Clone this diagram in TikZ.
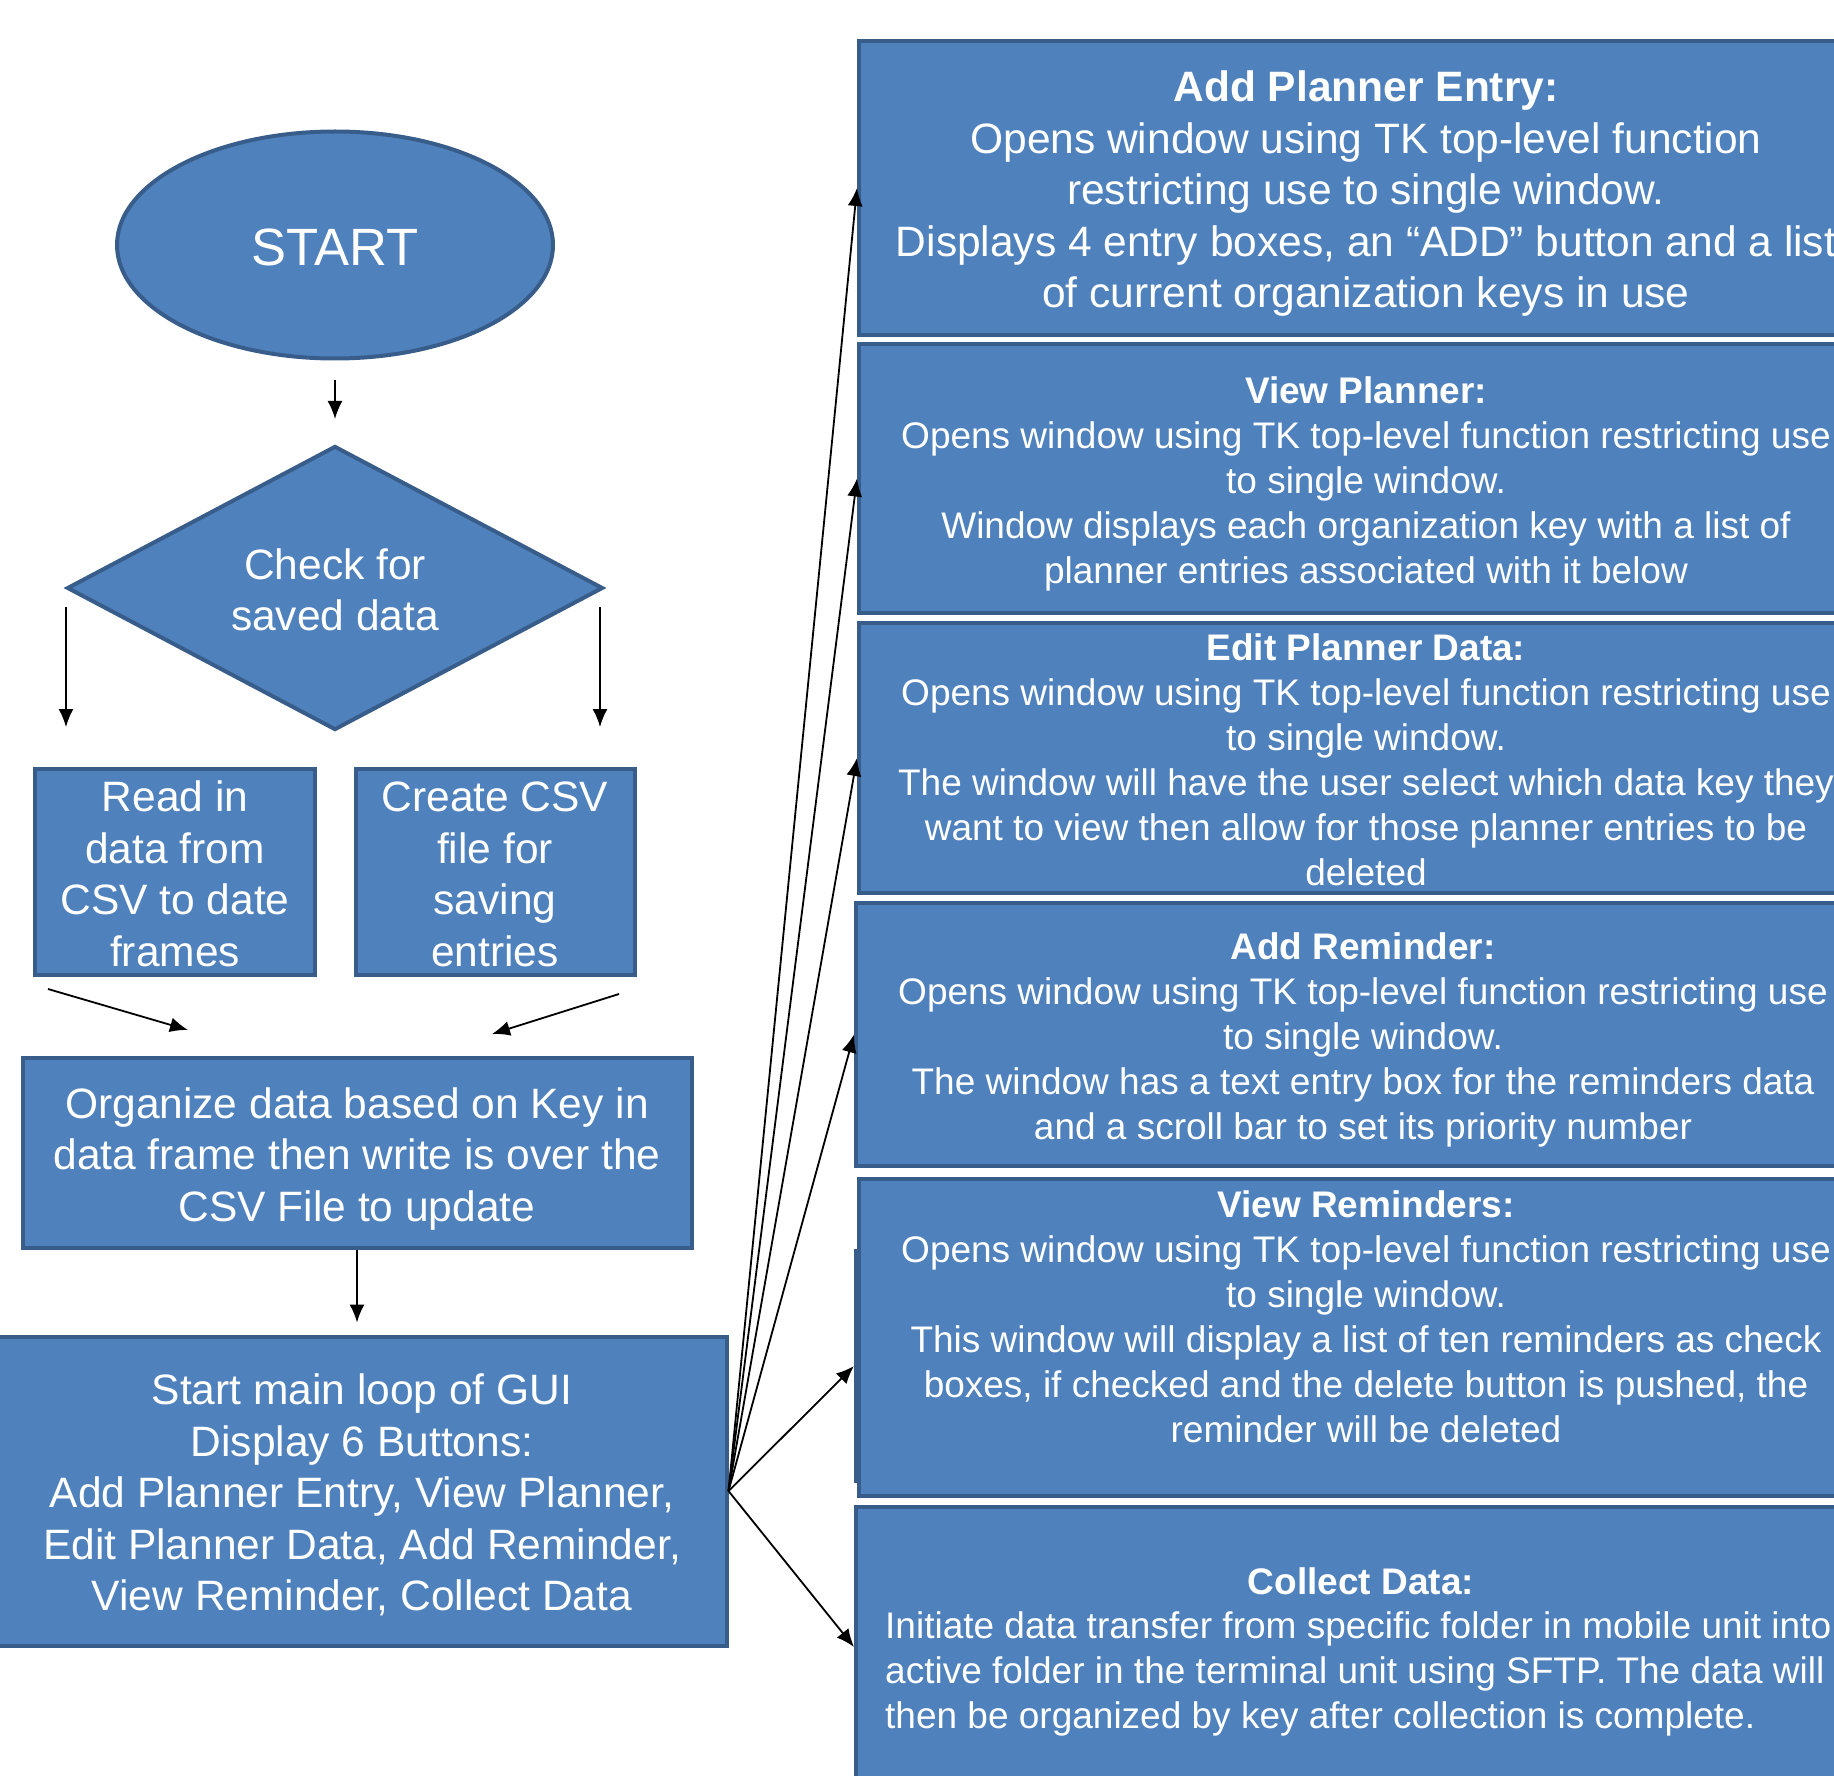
\documentclass[tikz,border=0pt]{standalone}
\usepackage{fontspec}
\setmainfont{Liberation Sans}
\usetikzlibrary{shapes.geometric,arrows.meta}
\definecolor{boxblue}{HTML}{4F81BD}
\definecolor{boxline}{HTML}{385D8A}
% struts so the lines sit in the box as in the slide
\newcommand{\upstrut}{\rule{0pt}{1em}}
\newcommand{\dnstrut}{\rule[-0.21em]{0pt}{0pt}}
\tikzset{
  blk/.style={draw=boxline, line width=4pt, fill=boxblue, text=white, align=center, inner sep=0pt},
  bigtxt/.style={font=\fontsize{42.5}{51.5}\selectfont},
  smalltxt/.style={font=\fontsize{37}{45}\selectfont},
  rbox/.style={blk, smalltxt, anchor=north west, minimum width=1014},
  arr/.style={-{Latex[length=18pt,width=15pt]}, line width=1.8pt},
}
\begin{document}
\begin{tikzpicture}[x=1pt, y=-1pt]
\useasboundingbox (0,0) rectangle (1834,1776);
% left column
\node[blk, ellipse, minimum width=436, minimum height=227, font=\fontsize{52.5}{63}\selectfont] (start) at (335,245) {\upstrut START\dnstrut};
\node[blk, diamond, aspect=1.89, minimum width=536, minimum height=284, bigtxt] (check) at (335,588) {\upstrut Check for\\saved data\dnstrut};
\node[blk, bigtxt, minimum width=280, minimum height=203] (read) at (175,872) {\upstrut Read in\\data from\\CSV to date\\frames\dnstrut};
\node[blk, bigtxt, minimum width=279, minimum height=203] (create) at (495,872) {\upstrut Create CSV\\file for\\saving\\entries\dnstrut};
\node[blk, bigtxt, minimum width=669, minimum height=190] (organize) at (357,1153) {\upstrut Organize data based on Key in\\data frame then write is over the\\CSV File to update\dnstrut};
\node[blk, bigtxt, minimum width=729, minimum height=309] (loop) at (362,1491) {\upstrut Start main loop of GUI\\Display 6 Buttons:\\Add Planner Entry, View Planner,\\Edit Planner Data, Add Reminder,\\View Reminder, Collect Data\dnstrut};
% right column
\node[rbox, bigtxt, minimum height=294] (ape) at (857,39) {\upstrut\textbf{Add Planner Entry:}\\Opens window using TK top-level function\\restricting use to single window.\\Displays 4 entry boxes, an “ADD” button and a list\\of current organization keys in use\dnstrut};
\node[rbox, minimum height=269] (vplan) at (857,342) {\upstrut\textbf{View Planner:}\\Opens window using TK top-level function restricting use\\to single window.\\Window displays each organization key with a list of\\planner entries associated with it below\dnstrut};
\node[rbox, minimum height=270] (edit) at (857,621) {\upstrut\textbf{Edit Planner Data:}\\Opens window using TK top-level function restricting use\\to single window.\\The window will have the user select which data key they\\want to view then allow for those planner entries to be\\deleted\dnstrut};
\node[rbox, minimum height=263] (arem) at (854,901) {\upstrut\textbf{Add Reminder:}\\Opens window using TK top-level function restricting use\\to single window.\\The window has a text entry box for the reminders data\\and a scroll bar to set its priority number\dnstrut};
\node[rbox, minimum width=60, minimum height=230] (vremBack) at (854,1249) {};
\node[rbox, minimum height=317] (vrem) at (857,1177) {\upstrut\textbf{View Reminders:}\\Opens window using TK top-level function restricting use\\to single window.\\This window will display a list of ten reminders as check\\boxes, if checked and the delete button is pushed, the\\reminder will be deleted\\~\dnstrut};
\node[rbox, minimum height=280] (coll) at (854,1505) {};
\node[text=white, font={\fontsize{37}{45}\selectfont\bfseries}] (collT) at (1361,1581) {Collect Data:};
\node[smalltxt, text=white, align=left, anchor=north west, inner sep=0pt] (collB) at (885,1611.5) {Initiate data transfer from specific folder in mobile unit into\\active folder in the terminal unit using SFTP. The data will\\then be organized by key after collection is complete.};
% connectors
\coordinate (readOut) at (48,989);
\coordinate (orgInL) at (188,1030);
\coordinate (createOut) at (619,994);
\coordinate (orgInR) at (492,1034);
\draw[arr, shorten <=20pt, shorten >=25pt] (start) -- (check);
\draw[arr, shorten <=19pt, shorten >=40pt] ([xshift=1pt]check.west) -- ([xshift=1pt]check.west |- read.north);
\draw[arr, shorten <=19pt, shorten >=40pt] ([xshift=-5pt]check.east) -- ([xshift=-5pt]check.east |- create.north);
\draw[arr] (readOut) -- (orgInL);
\draw[arr] (createOut) -- (orgInR);
\draw[arr, shorten >=12pt] (organize.south) -- (organize.south |- loop.north);
\foreach \b in {ape,vplan,edit,arem,vremBack,coll}
  \draw[arr] (loop.east) -- (\b.west);
\end{tikzpicture}
\end{document}
